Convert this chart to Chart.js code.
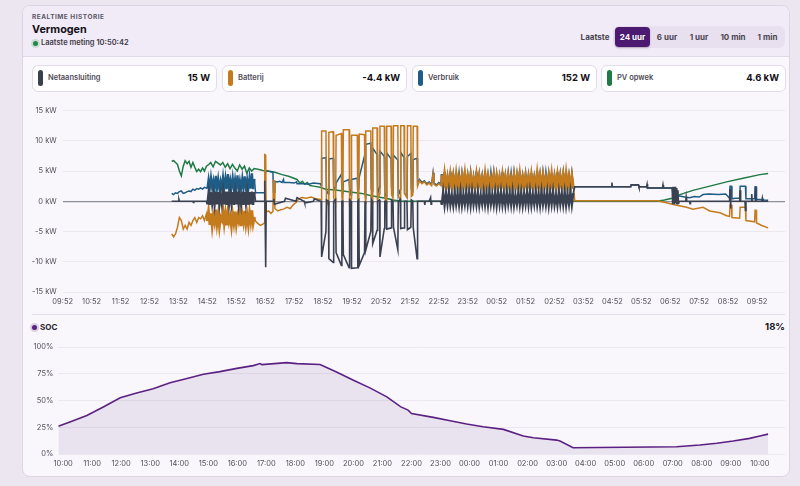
<!DOCTYPE html>
<html lang="nl">
<head>
<meta charset="utf-8">
<script src="https://cdn.jsdelivr.net/npm/chart.js@4.4.1/dist/chart.umd.min.js"></script>
<style>
*{box-sizing:border-box}
html,body{margin:0;padding:0}
body{width:800px;height:486px;background:#ebe6f0;position:relative;overflow:hidden;font-family:Inter,"Noto Sans",sans-serif;color:#18141d}
.abs{position:absolute;white-space:nowrap}
#card{left:22px;top:5px;width:768px;height:472px;background:#f9f7fc;border:1px solid #ddd5e6;border-radius:8px}
#head{left:23px;top:6px;width:766px;height:51px;background:#f1ebf7;border-bottom:1px solid #e1d9ea;border-radius:7px 7px 0 0}
.eyebrow{left:32px;top:12px;font-size:6.5px;font-weight:700;letter-spacing:0.5px;color:#5d5865;line-height:10px}
.title{left:32px;top:22.5px;font-size:10.8px;font-weight:700;line-height:14px;color:#141018}
.dot{width:5px;height:5px;border-radius:50%}
.meta{left:41px;top:38px;font-size:7.5px;font-weight:600;line-height:10px;color:#3d3944}
.seg{left:613px;top:26px;width:172px;height:22px;background:#e8e0ef;border-radius:6px}
.btn{top:32px;width:44px;text-align:center;font-size:8px;font-weight:700;line-height:11px;color:#4a4550}
.sel{left:615px;top:27px;width:35px;height:20px;background:#4c1a70;border-radius:4px;box-shadow:0 1px 2px rgba(60,20,90,.3)}
.stat{top:65px;height:27px;width:185px;background:#fff;border:1px solid #e2dbea;border-radius:6px}
.pill{top:70px;width:5px;height:16px;border-radius:3px}
.lbl{top:73px;font-size:7.5px;font-weight:600;line-height:10px;color:#4f4a57}
.val{top:72px;width:178px;text-align:right;font-size:9.5px;font-weight:700;line-height:12px;color:#141018}
.sep{left:32px;top:314px;width:753px;height:1px;background:#e4dded}
canvas{position:absolute}
</style>
</head>
<body>
<div id="card" class="abs"></div>
<div id="head" class="abs"></div>
<div class="abs eyebrow">REALTIME HISTORIE</div>
<div class="abs title">Vermogen</div>
<div class="abs dot" style="left:33px;top:40.5px;background:#1f8a47;box-shadow:0 0 0 2px rgba(31,138,71,.18)"></div>
<div class="abs meta">Laatste meting 10:50:42</div>

<div class="abs btn" style="left:573px">Laatste</div>
<div class="abs seg"></div>
<div class="abs sel"></div>
<div class="abs btn" style="left:610.5px;color:#fff">24 uur</div>
<div class="abs btn" style="left:645px">6 uur</div>
<div class="abs btn" style="left:677px">1 uur</div>
<div class="abs btn" style="left:711px">10 min</div>
<div class="abs btn" style="left:745.5px">1 min</div>

<div class="abs stat" style="left:32px"></div>
<div class="abs pill" style="left:38px;background:#39404e"></div>
<div class="abs lbl" style="left:48px">Netaansluiting</div>
<div class="abs val" style="left:32px">15 W</div>

<div class="abs stat" style="left:222px"></div>
<div class="abs pill" style="left:228px;background:#c47b1d"></div>
<div class="abs lbl" style="left:238px">Batterij</div>
<div class="abs val" style="left:222px">-4.4 kW</div>

<div class="abs stat" style="left:412px"></div>
<div class="abs pill" style="left:418px;background:#1f5c86"></div>
<div class="abs lbl" style="left:428px">Verbruik</div>
<div class="abs val" style="left:412px">152 W</div>

<div class="abs stat" style="left:601px"></div>
<div class="abs pill" style="left:607px;background:#1f7a45"></div>
<div class="abs lbl" style="left:617px">PV opwek</div>
<div class="abs val" style="left:601px">4.6 kW</div>

<canvas id="power" width="768" height="212" style="left:22px;top:100px"></canvas>

<div class="abs sep"></div>
<div class="abs dot" style="left:31.5px;top:324.5px;background:#5b2182;box-shadow:0 0 0 2px rgba(91,33,130,.18)"></div>
<div class="abs" style="left:40px;top:322px;font-size:8px;font-weight:700;line-height:10px;color:#2a2430">SOC</div>
<div class="abs" style="left:700px;top:321px;width:85px;text-align:right;font-size:9.5px;font-weight:700;line-height:12px;color:#141018">18%</div>

<canvas id="soc" width="768" height="137" style="left:22px;top:337px"></canvas>

<script>
// ---------- DATA (time in minutes after 09:52 for power, after 10:00 for SOC) ----------
const hourTicks = [0,60,120,180,240,300,360,420,480,540,600,660,720,780,840,900,960,1020,1080,1140,1200,1260,1320,1380,1440];
const powerTickValues = [-15,-10,-5,0,5,10,15];
const socTickValues = [0,25,50,75,100];

// Netaansluiting (kW)
const netT = [226,240,241,242,270,271,272,298,
  400,418,419,421,422,437,438,439,460,461,462,484,485,486,500,501,502,520,521,522,534,
  740,750,751,752,760,763,764,765,784,
  1062,1138,1139,1140,1178,1179,1194,1195,1211,1212,1213,1244,1245,1246,1264,1265,1266,1267,1268,1269,1270,1271,1272,1273,1274,1275,1276,1277,1278,
  1292,1293,1294,1300,1301,1302,1383,1384,1385,1386,1404,1405,1406,1415,1416,1417,1428,1429,1430,1436,1437,1438,1450,1451,1452,1463];
const netV = [0,0,0.3,0,0,-0.2,0,0,
  0,0,3.4,-10.9,0,0,0.4,-0.5,0,0,0.5,0,0,0.6,0,0,-0.3,0,0,0.4,0,
  0,0,-0.6,0,0,0.6,-0.5,0,0,
  2.4,2.4,3.1,2.4,2.4,2.7,2.7,2.4,2.4,2.8,2.2,2.2,2.7,2.2,2.2,-0.5,2.4,-0.4,2.3,-0.5,2.4,-0.3,2.2,-0.5,2.0,-0.4,1.8,-0.3,0,
  0,0.7,0,0,-0.4,0,0,2.0,-1.2,0,0,1.8,0,0,-1.5,0,0,1.2,0,0,2.3,0,0,0.5,0,0];

// Batterij (kW)
const batT = [226,230,234,238,242,246,250,254,258,262,266,270,274,278,282,286,290,294,298,
  400,405,410,415,418,419,421,422,427,432,436,437,439,440,446,452,458,465,472,478,484,490,496,505,515,525,534,
  740,745,750,755,760,765,768,770,775,780,784,
  1062,1233,1250,1264,1276,1294,1307,1328,1342,1363,1377,1383,1384,1387,1388,1404,1405,1416,1417,1435,1436,1438,1439,1450,1463];
const batV = [-5.4,-5.9,-5.4,-4.3,-2.7,-3.2,-4.6,-4.0,-4.6,-3.5,-4.0,-3.2,-2.7,-3.5,-2.7,-2.9,-2.4,-3.2,-2.1,
  -3.3,-3.7,-4.0,-3.8,-3.6,7.7,7.6,-1.8,-1.6,-2.0,-1.7,3.4,3.3,-1.2,-1.6,-1.4,-1.3,-1.0,-1.2,-0.6,-0.2,0.4,0.6,0.5,0.7,0.4,0.3,
  3.4,2.9,3.2,2.7,3.0,2.6,4.5,2.8,2.5,2.9,2.6,
  0.1,0.1,-0.2,-0.5,-0.7,-1.0,-1.3,-1.0,-1.6,-1.9,-2.4,-2.5,-0.6,-0.6,-2.7,-2.8,-1.0,-1.0,-3.2,-3.4,-1.5,-1.5,-3.6,-4.0,-4.4];

// Verbruik (kW)
const useT = [226,230,234,238,242,246,250,254,258,262,266,270,274,278,282,286,290,294,298,
  400,418,419,425,430,436,437,439,440,445,450,455,458,459,470,480,485,486,500,510,520,534,
  740,745,750,755,760,765,768,770,775,780,784,
  1062,1138,1178,1179,1194,1195,1211,1212,1264,1266,1276,1290,1300,1310,1320,1328,1340,1360,1375,1383,1384,1387,1388,1395,1404,1405,1416,1417,1425,1435,1436,1438,1439,1446,1455,1463];
const useV = [1.3,1.1,1.4,1.3,1.6,1.7,1.3,1.4,1.6,1.7,1.6,2.0,1.8,2.1,2.0,2.2,2.0,2.3,2.2,
  1.4,1.4,4.8,5.0,4.9,4.8,1.5,1.5,3.3,3.2,3.3,3.1,3.6,3.1,3.1,3.0,3.2,2.9,2.9,2.8,3.0,2.9,
  3.6,3.1,3.4,2.9,3.2,2.8,4.7,3.0,2.7,3.1,2.8,
  2.4,2.4,2.4,2.7,2.7,2.4,2.4,2.2,2.2,1.0,0.9,0.7,0.6,0.8,0.7,1.1,1.2,1.1,1.2,0.5,2.5,2.5,0.4,0.5,0.5,2.5,2.5,0.4,0.4,0.4,2.4,2.4,0.3,0.3,0.2,0.15];

// PV opwek (kW)
const pvT = [226,230,234,238,242,246,250,254,258,262,266,270,274,278,282,286,290,294,298,
  302,307,312,317,322,327,332,337,342,347,352,357,362,367,372,377,382,387,392,397,
  405,415,425,440,455,470,486,492,497,502,507,513,520,534,545,560,582,600,620,640,655,670,686,700,
  1233,1248,1264,1280,1307,1342,1377,1411,1446,1463];
const pvV = [6.6,6.7,6.4,6.1,5.0,4.2,5.8,6.7,6.2,6.6,5.6,6.4,5.6,4.9,5.3,4.9,5.5,5.0,5.8,
  6.0,6.4,5.7,6.6,6.3,6.0,6.4,5.6,6.2,5.4,6.1,5.5,5.0,6.0,5.3,5.8,4.6,5.5,5.0,5.4,
  5.3,5.1,5.0,4.8,4.4,4.1,3.6,3.0,3.3,2.8,3.1,2.6,2.5,2.3,2.0,1.9,1.7,1.5,1.3,0.9,0.7,0.5,0.2,0.0,
  0.0,0.2,0.5,1.1,1.8,2.5,3.2,3.8,4.4,4.6];

// afternoon noisy block 14:52-16:30 (samples every 2.5 min from t=300)
const noiseStart = 300, noiseStep = 2.5;
const useNoise = [2.1,3.6,2.0,3.9,2.2,3.4,2.0,4.2,2.1,3.7,2.0,3.3,2.2,4.0,2.1,3.8,2.0,4.5,2.1,3.5,2.2,3.9,2.0,3.6,2.1,4.3,2.0,3.4,2.1,3.8,2.0,4.1,2.2,3.6,2.0,3.9,2.1,4.6,2.0,3.7];
const netNoise = [-0.5,1.4,-0.6,1.5,-0.4,1.2,-0.6,1.6,-0.5,1.5,-0.6,1.1,-0.4,1.5,-0.5,1.6,-0.6,1.6,-0.5,1.3,-0.4,1.5,-0.6,1.4,-0.5,1.6,-0.6,1.2,-0.5,1.6,-0.6,1.5,-0.4,1.4,-0.6,1.5,-0.5,1.6,-0.6,1.5];
const batNoise = [-3.3,-1.6,-3.9,-2.0,-4.2,-2.4,-3.5,-1.4,-3.8,-2.2,-4.3,-2.6,-3.1,-1.5,-3.7,-2.0,-4.0,-1.8,-3.4,-2.5,-4.2,-2.1,-3.6,-1.7,-3.9,-2.4,-3.3,-1.9,-4.1,-2.2,-3.5,-1.6,-3.8,-2.3,-4.0,-1.8,-3.4,-1.5,-3.7,-2.6];

// evening battery pulses 18:48-22:08
const pulseT = [536,537,546,547, 551,552,561,562, 566,567,578,579, 581,582,594,595, 598,599,611,612, 614,615,626,627, 628,629,639,640, 642,643,652,653, 657,658,667,668, 671,672,681,682, 685,686,695,696, 700,701,708,709, 714,715,722,723, 726,727,735,736];
const batPulse = [0.2,11.6,11.6,0.1, -0.6,11.4,11.5,0.5, -0.4,10.9,11.2,0.8, -0.9,11.8,11.8,-1.0, 0.4,10.9,10.9,-1.1, 0.6,11.1,11.0,1.0, -0.5,11.6,11.6,0.9, -0.3,12.1,12.1,0.2, 1.2,12.4,12.4,0.7, -0.2,12.4,12.4,1.1, 0.5,12.5,12.5,0.9, 0.3,12.5,12.5,1.3, 0.6,12.5,12.5,0.8, 1.0,12.4,12.4,2.5];
const usePulse = [2.6,7.1,7.2,1.8, 1.2,7.0,7.1,2.4, 2.0,3.0,4.5,1.6, 1.4,3.2,3.6,2.2, 1.0,3.6,3.8,1.5, 2.1,4.0,7.5,1.2, 0.9,9.4,9.6,2.0, 1.6,8.8,7.7,1.1, 2.3,8.3,7.4,1.4, 0.8,8.0,7.0,2.2, 1.5,7.6,6.8,0.9, 1.9,8.1,7.2,1.3, 0.7,7.4,7.9,2.0, 1.7,6.9,7.1,3.0];
const netPulse = [0,-9.2,-5.0,0.2, 0,-9.5,-10.1,0, 0.3,-8.5,-10.6,0, 0,-8.8,-11.0,0.2, 0,-11.1,-11.0,0, 0.2,-10.6,-8.5,0, 0,-8.1,-5.0,0.3, 0,-7.0,-4.8,0, 0.2,-9.2,-4.5,0, 0,-4.6,-4.4,0.2, 0,-4.3,-8.0,0, 0.3,-4.5,-4.4,0, 0,-4.7,-4.3,0.2, 0,-4.4,-9.5,0];

// night block 22:58-03:31 (samples every 3 min from t=786)
const nightStart = 786, nightStep = 3;
const batNight = [4.3,2.3,4.6,2.5,3.9,2.2,4.4,2.6,4.1,2.3,
  4.5,2.4,3.8,2.2,4.2,2.6,4.6,2.3,4.0,2.5,
  4.3,2.2,3.7,2.4,4.4,2.3,4.1,2.6,3.9,2.2,
  4.5,2.4,4.0,2.3,3.8,2.5,4.3,2.2,4.1,2.4,
  3.9,2.3,4.4,2.6,4.0,2.2,4.2,2.4,3.8,2.3,
  4.3,2.5,4.1,2.2,4.5,2.4,3.9,2.3,4.2,2.6,
  4.0,2.2,4.4,2.5,3.8,2.3,4.6,2.4,4.1,2.2,
  4.3,2.5,3.9,2.3,4.2,2.4,4.5,2.2,4.0,2.6,
  4.4,2.3,4.1,2.5,4.3,2.2,4.6,2.4,4.0,2.3,
  4.2,2.4];
const useNight = [4.5,2.1,4.8,2.1,4.0,2.0,4.9,2.2,4.2,2.1,
  4.6,2.1,4.3,2.0,4.3,2.2,4.8,2.1,4.1,2.1,
  4.4,2.0,3.9,2.1,4.9,2.1,4.2,2.2,4.0,2.0,
  4.6,2.1,4.1,2.1,4.4,2.2,4.4,2.0,4.2,2.1,
  4.0,2.1,4.8,2.2,4.1,2.0,4.3,2.1,4.3,2.1,
  4.4,2.2,4.2,2.0,4.9,2.1,4.0,2.1,4.3,2.2,
  4.1,2.0,4.6,2.1,3.9,2.1,5.0,2.1,4.2,2.0,
  4.4,2.2,4.4,2.1,4.3,2.1,4.6,2.0,4.1,2.2,
  4.8,2.1,4.2,2.2,4.4,2.0,4.7,2.1,4.1,2.1,
  4.3,2.1];
const netNight = [-0.6,1.5,-0.7,1.2,-0.5,1.6,-0.6,1.0,-0.7,1.4,
  -0.5,1.3,-0.6,1.6,-0.7,1.1,-0.5,1.5,-0.6,1.4,
  -0.7,1.6,-0.5,1.2,-0.6,1.5,-0.7,1.0,-0.5,1.5,
  -0.6,1.3,-0.7,1.6,-0.5,1.1,-0.6,1.5,-0.7,1.4,
  -0.5,1.6,-0.6,1.2,-0.7,1.5,-0.5,1.3,-0.6,1.6,
  -0.7,1.0,-0.5,1.5,-0.6,1.4,-0.7,1.2,-0.5,1.5,
  -0.6,1.6,-0.7,1.1,-0.5,1.5,-0.6,1.3,-0.7,1.6,
  -0.5,1.2,-0.6,1.5,-0.7,1.4,-0.5,1.6,-0.6,1.0,
  -0.7,1.5,-0.5,1.3,-0.6,1.5,-0.7,1.2,-0.5,1.6,
  -0.6,1.4];

// SOC (%), time in minutes after 10:00
const socT = [-10,14,49,83,118,152,186,221,256,290,324,359,393,407,411,462,483,531,565,600,634,669,698,713,720,765,800,834,868,910,951,972,1020,1027,1054,1268,1316,1351,1385,1419,1440,1457];
const socV = [26,30,36,44,52.5,57,61,66.5,70.5,74.5,77,80,82.6,84.5,83.5,85.4,84.5,83.6,76.7,69,61.8,53.4,44,41,37.9,34.2,31,28,25.4,23,16.8,15.2,13,12.1,5.9,6.8,8.4,10,12.1,14.6,16.8,18.6];

// ---------- BUILD ----------
function pairs(t, v){ return t.map((x,i)=>({x:x, y:v[i]})); }
function sampled(start, step, v){ return v.map((y,i)=>({x:start+i*step, y:y})); }
function series(parts){ return [].concat(...parts).sort((a,b)=>a.x-b.x); }
const pad = n => String(n).padStart(2,'0');
const clock = m => { m = ((m % 1440) + 1440) % 1440; return pad(Math.floor(m/60)) + ':' + pad(Math.round(m%60)); };

Chart.defaults.font.family = "Inter, 'Noto Sans', sans-serif";
Chart.defaults.color = '#5a5560';

const netData = series([pairs(netT,netV), sampled(noiseStart,noiseStep,netNoise), pairs(pulseT,netPulse), sampled(nightStart,nightStep,netNight)]);
const batData = series([pairs(batT,batV), sampled(noiseStart,noiseStep,batNoise), pairs(pulseT,batPulse), sampled(nightStart,nightStep,batNight)]);
const useData = series([pairs(useT,useV), sampled(noiseStart,noiseStep,useNoise), pairs(pulseT,usePulse), sampled(nightStart,nightStep,useNight)]);
const pvData = series([pairs(pvT,pvV)]);

const noiseEnd = noiseStart + noiseStep * (useNoise.length - 1);
const nightEnd = nightStart + nightStep * (batNight.length - 1);
const inDense = x => (x >= noiseStart && x < noiseEnd) || (x >= nightStart && x < nightEnd);

const lineDs = (label, data, color, w, dense) => ({label, data, borderColor: color, borderWidth: w, pointRadius: 0, tension: 0, fill: false,
  segment: { borderWidth: ctx => inDense(ctx.p0.parsed.x) ? dense : undefined }});

new Chart(document.getElementById('power'), {
  type: 'line',
  data: { datasets: [
    lineDs('Netaansluiting', netData, '#3a4150', 1.6, 2.3),
    lineDs('Batterij', batData, '#c47b1d', 1.5, 2.6),
    lineDs('Verbruik', useData, '#1f5c86', 1.5, 2.2),
    lineDs('PV opwek', pvData, '#1f7a45', 1.5, 1.5)
  ]},
  options: {
    responsive: false, animation: false, events: [],
    layout: { padding: { top: 9, right: 5, left: 0, bottom: 0 } },
    plugins: { legend: { display: false }, tooltip: { enabled: false } },
    scales: {
      x: { type: 'linear', min: 0, max: 1498,
        afterBuildTicks: s => { s.ticks = hourTicks.map(v => ({value: v})); },
        afterFit: s => { s.height = 20; },
        ticks: { autoSkip: false, maxRotation: 0, padding: 5, font: { size: 7.5 }, color: '#55505c', callback: v => clock(592 + v) },
        grid: { display: false, drawTicks: false }, border: { display: false } },
      y: { min: -15, max: 15,
        afterBuildTicks: s => { s.ticks = powerTickValues.map(v => ({value: v})); },
        afterFit: s => { s.width = 40.7; },
        ticks: { padding: 6, font: { size: 7.5 }, color: '#55505c', callback: v => v + ' kW' },
        grid: { drawTicks: false, color: c => c.tick && c.tick.value === 0 ? '#8f8f99' : '#ebe8f0', lineWidth: c => c.tick && c.tick.value === 0 ? 1.3 : 1 },
        border: { display: false } }
    }
  }
});

new Chart(document.getElementById('soc'), {
  type: 'line',
  data: { datasets: [{ label: 'SOC', data: pairs(socT, socV), borderColor: '#5b2182', borderWidth: 1.6, pointRadius: 0, tension: 0, fill: 'origin', backgroundColor: 'rgba(120,70,150,0.12)' }] },
  options: {
    responsive: false, animation: false, events: [],
    layout: { padding: { top: 10, right: 5, left: 0, bottom: 0 } },
    plugins: { legend: { display: false }, tooltip: { enabled: false } },
    scales: {
      x: { type: 'linear', min: -10, max: 1492,
        afterBuildTicks: s => { s.ticks = hourTicks.map(v => ({value: v})); },
        afterFit: s => { s.height = 20; },
        ticks: { autoSkip: false, maxRotation: 0, padding: 5, font: { size: 7.5 }, color: '#55505c', callback: v => clock(600 + v) },
        grid: { display: false, drawTicks: false }, border: { display: false } },
      y: { min: 0, max: 100,
        afterBuildTicks: s => { s.ticks = socTickValues.map(v => ({value: v})); },
        afterFit: s => { s.width = 36.3; },
        ticks: { padding: 5, font: { size: 7.5 }, color: '#55505c', callback: v => v + '%' },
        grid: { drawTicks: false, color: '#ebe8f0' },
        border: { display: false } }
    }
  }
});
</script>
</body>
</html>
